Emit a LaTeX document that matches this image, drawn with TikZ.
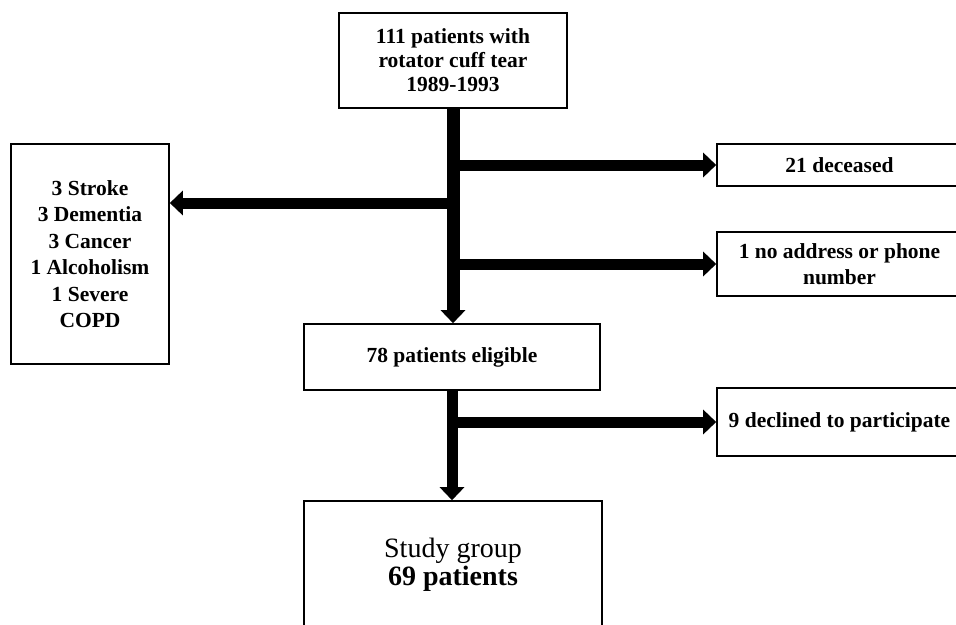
\documentclass[tikz,border=0pt]{standalone}
\usepackage{fontspec}
\setmainfont{Liberation Serif}
\usetikzlibrary{arrows.meta,positioning}

\begin{document}
\begin{tikzpicture}[x=1pt, y=-1pt,
  box/.style={draw, line width=1.6pt, align=center, inner sep=0pt,
    font=\fontsize{21.5}{25.5}\selectfont\bfseries},
  flow/.style={line width=11pt, -{Triangle[length=13pt, width=24pt]}},
  trunk/.style={flow, line width=13pt}]
  \clip (0,0) rectangle (956,624);
  % boxes
  \node[box, minimum width=228, minimum height=95, font=\fontsize{21.5}{24}\selectfont\bfseries] (cohort) at (453,60.5)
    {111 patients with\\rotator cuff tear\\1989-1993};
  \node[box, minimum width=158, minimum height=220, font=\fontsize{21.5}{26.5}\selectfont\bfseries] (excluded) at (90,254)
    {3 Stroke\\3 Dementia\\3 Cancer\\1 Alcoholism\\1 Severe\\COPD};
  \node[box, minimum width=245, minimum height=42] (deceased) at (839.5,165) {21 deceased};
  \node[box, minimum width=245, minimum height=64] (noaddress) at (839.5,264)
    {1 no address or phone\\number};
  \node[box, minimum width=296, minimum height=66] (eligible) at (452,357) {78 patients eligible};
  \node[box, minimum width=245, minimum height=68] (declined) at (839.5,422) {9 declined to participate};
  \node[box, minimum width=298, minimum height=128, font=\fontsize{28}{28}\selectfont] (study) at (453,565)
    {Study group\\\textbf{69 patients}};
  \coordinate (exclin) at (excluded.east |- 0,203);
  % arrows
  \draw[trunk] (cohort.south) -- (cohort.south |- eligible.north);
  \draw[flow] (cohort.south |- deceased.west) -- (deceased.west);
  \draw[flow] (cohort.south |- exclin) -- (exclin);
  \draw[flow] (cohort.south |- noaddress.west) -- (noaddress.west);
  \draw[flow] (eligible.south) -- (eligible.south |- study.north);
  \draw[flow] (eligible.south |- declined.west) -- (declined.west);
\end{tikzpicture}
\end{document}
